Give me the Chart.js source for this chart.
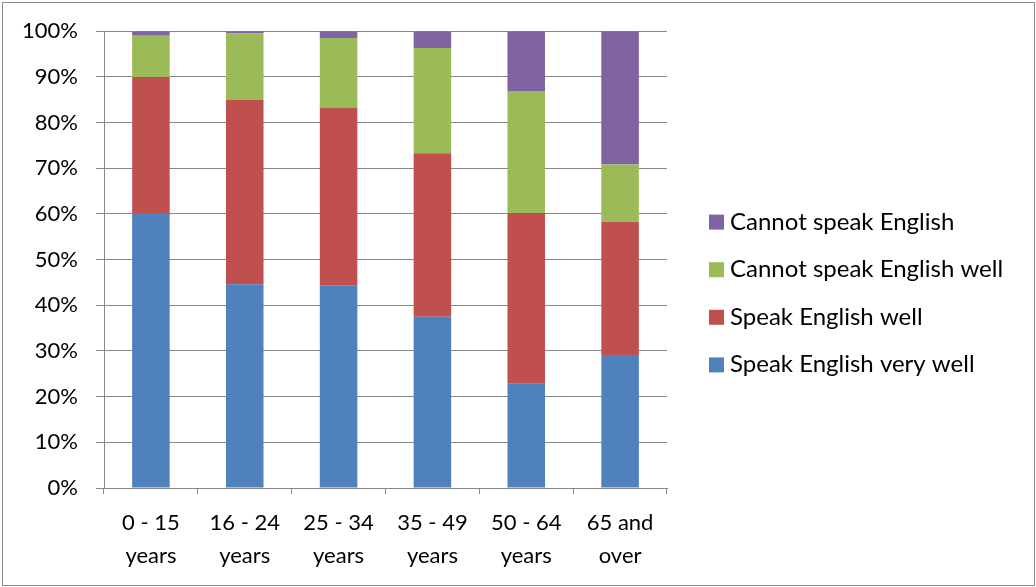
<!DOCTYPE html>
<html>
<head>
<meta charset="utf-8">
<style>
  html, body { margin: 0; padding: 0; background: #ffffff; }
  #wrap { position: relative; width: 1036px; height: 587px; }
</style>
<script src="https://cdn.jsdelivr.net/npm/chart.js@4.4.1/dist/chart.umd.min.js"></script>
</head>
<body>
<div id="wrap"><canvas id="chart" width="1036" height="587"></canvas></div>
<script>
// Age groups (two-line labels)
const ageGroups = [
  ['0 - 15', 'years'],
  ['16 - 24', 'years'],
  ['25 - 34', 'years'],
  ['35 - 49', 'years'],
  ['50 - 64', 'years'],
  ['65 and', 'over']
];

// Share of each age group (%), stacked bottom to top
const speakVeryWell   = [60.2, 44.6, 44.4, 37.5, 22.8, 29.1];
const speakWell       = [29.8, 40.4, 38.9, 35.8, 37.4, 29.2];
const cannotSpeakWell = [ 9.0, 14.5, 15.2, 23.0, 26.7, 12.5];
const cannotSpeak     = [ 1.0,  0.5,  1.5,  3.7, 13.1, 29.2];

const seriesNames = [
  'Speak English very well',
  'Speak English well',
  'Cannot speak English well',
  'Cannot speak English'
];
const seriesColors = ['#4F81BD', '#C0504D', '#9BBB59', '#8064A2'];

const yTicks = [0, 10, 20, 30, 40, 50, 60, 70, 80, 90, 100];

const FONT = 'Lato, "Open Sans", sans-serif';
const GRID = '#878787';

// Outer frame around the whole chart
const framePlugin = {
  id: 'frame',
  beforeDraw(chart) {
    const ctx = chart.ctx;
    ctx.save();
    ctx.fillStyle = '#ffffff';
    ctx.fillRect(0, 0, chart.width, chart.height);
    ctx.strokeStyle = '#8a8a8a';
    ctx.lineWidth = 1;
    ctx.strokeRect(2.5, 2.5, chart.width - 4, chart.height - 4);
    ctx.restore();
  }
};

// Legend to the right of the plot, listed top-down in reverse stack order
const sideLegend = {
  id: 'sideLegend',
  afterDraw(chart) {
    const ctx = chart.ctx;
    const ds = chart.data.datasets.slice().reverse();
    const x = chart.chartArea.right + 42;
    const rowGap = 47.6;
    const midY = chart.height / 2;
    ctx.save();
    ctx.font = '24px ' + FONT;
    ctx.textBaseline = 'alphabetic';
    ctx.textAlign = 'left';
    ds.forEach((d, i) => {
      const yc = midY + (i - (ds.length - 1) / 2) * rowGap;
      ctx.fillStyle = d.backgroundColor;
      ctx.fillRect(x, yc - 7.5, 15, 15);
      ctx.fillStyle = '#000000';
      ctx.fillText(d.label, x + 21, yc + 7.5);
    });
    ctx.restore();
  }
};

const datasets = [speakVeryWell, speakWell, cannotSpeakWell, cannotSpeak].map((vals, i) => ({
  label: seriesNames[i],
  data: vals,
  backgroundColor: seriesColors[i],
  borderWidth: 0,
  categoryPercentage: 1.0,
  barPercentage: 0.4
}));

new Chart(document.getElementById('chart'), {
  type: 'bar',
  data: { labels: ageGroups, datasets },
  plugins: [framePlugin, sideLegend],
  options: {
    responsive: false,
    animation: false,
    devicePixelRatio: 1,
    layout: { padding: { left: 0, right: 369, top: 31, bottom: 0 } },
    plugins: {
      legend: { display: false },
      tooltip: { enabled: false }
    },
    scales: {
      x: {
        stacked: true,
        grid: {
          offset: true,
          drawOnChartArea: false,
          color: GRID,
          tickLength: 6,
          tickWidth: 1
        },
        border: { color: GRID, width: 1 },
        ticks: {
          color: '#000000',
          font: { family: FONT, size: 22, lineHeight: 1.5 },
          padding: 12,
          maxRotation: 0,
          autoSkip: false
        },
        afterFit(scale) { scale.height = 99; }
      },
      y: {
        stacked: true,
        min: 0,
        max: 100,
        afterBuildTicks(scale) { scale.ticks = yTicks.map(v => ({ value: v })); },
        grid: {
          color: GRID,
          tickLength: 8,
          lineWidth: 1
        },
        border: { color: GRID, width: 1 },
        ticks: {
          color: '#000000',
          font: { family: FONT, size: 22 },
          padding: 18,
          callback: v => v + '%'
        },
        afterFit(scale) { scale.width = 104; }
      }
    }
  }
});
</script>
</body>
</html>
